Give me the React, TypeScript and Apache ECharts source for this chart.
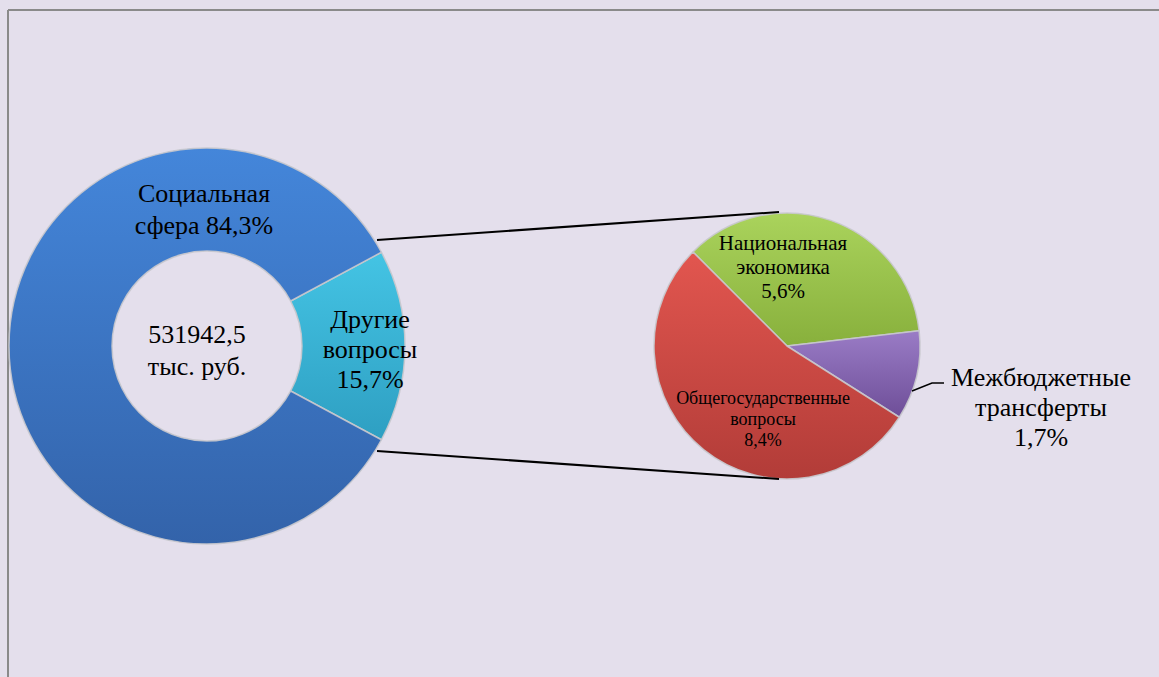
import React, { useEffect, useRef } from "react";
import * as echarts from "echarts";

// ---- data ----
const mainCategories = ["Социальная сфера", "Другие вопросы"];
const mainValues = [84.3, 15.7];
const totalValue = "531942,5";
const totalUnit = "тыс. руб.";
const subCategories = ["Национальная экономика", "Межбюджетные трансферты", "Общегосударственные вопросы"];
const subValues = [5.6, 1.7, 8.4];

const pct = (v: number) => v.toFixed(1).replace(".", ",") + "%";

const FONT = '"Liberation Serif", "Times New Roman", serif';

const grad = (top: string, bottom: string) => ({
  type: "linear",
  x: 0,
  y: 0,
  x2: 0,
  y2: 1,
  colorStops: [
    { offset: 0, color: top },
    { offset: 1, color: bottom },
  ],
});

export default function App() {
  const ref = useRef<HTMLDivElement>(null);

  useEffect(() => {
    document.body.style.margin = "0";
    const chart = echarts.init(ref.current!, null, { renderer: "svg" });

    const otherShare = mainValues[1] / (mainValues[0] + mainValues[1]);
    const mainStart = (otherShare * 360) / 2;

    const textStyle = (text: string, x: number, y: number, size: number, lh: number) => ({
      type: "text",
      x,
      y,
      silent: true,
      z: 100,
      style: {
        text,
        fontSize: size,
        fontFamily: FONT,
        fill: "#000",
        align: "center",
        verticalAlign: "middle",
        lineHeight: lh,
      },
    });

    chart.setOption({
      animation: false,
      backgroundColor: "#E4DFEC",
      series: [
        {
          type: "pie",
          center: [207, 346],
          radius: [95, 198],
          startAngle: mainStart,
          clockwise: true,
          silent: true,
          label: { show: false },
          labelLine: { show: false },
          itemStyle: { borderColor: "rgba(200,200,205,0.9)", borderWidth: 1.5 },
          data: [
            {
              name: mainCategories[1],
              value: mainValues[1],
              itemStyle: { color: grad("#44C4E4", "#2E9FC2") },
            },
            {
              name: mainCategories[0],
              value: mainValues[0],
              itemStyle: { color: grad("#4486DA", "#3363AA") },
            },
          ],
        },
        {
          type: "pie",
          center: [787, 346],
          radius: [0, 133],
          startAngle: 135,
          clockwise: true,
          silent: true,
          label: { show: false },
          labelLine: { show: false },
          itemStyle: { borderColor: "rgba(200,200,205,0.9)", borderWidth: 1.5 },
          data: [
            { name: subCategories[0], value: subValues[0], itemStyle: { color: grad("#AAD35C", "#88B03C") } },
            { name: subCategories[1], value: subValues[1], itemStyle: { color: grad("#9A7CC6", "#6E4E98") } },
            { name: subCategories[2], value: subValues[2], itemStyle: { color: grad("#E2564F", "#B23C38") } },
          ],
        },
      ],
      graphic: [
        // frame lines
        { type: "line", silent: true, shape: { x1: 8, y1: 10, x2: 8, y2: 677 }, style: { stroke: "#8A8A8A", lineWidth: 2 } },
        { type: "line", silent: true, shape: { x1: 8, y1: 10, x2: 1159, y2: 10 }, style: { stroke: "#8A8A8A", lineWidth: 2 } },
        // connector lines
        { type: "line", silent: true, z: 50, shape: { x1: 377, y1: 240, x2: 779, y2: 212 }, style: { stroke: "#000", lineWidth: 2 } },
        { type: "line", silent: true, z: 50, shape: { x1: 377, y1: 451, x2: 779, y2: 479 }, style: { stroke: "#000", lineWidth: 2 } },
        // leader line for small slice
        {
          type: "polyline",
          silent: true,
          z: 50,
          shape: { points: [[912, 391], [932, 383], [944, 383]] },
          style: { stroke: "#000", lineWidth: 1.5, fill: null },
        },
        textStyle(totalValue + "\n" + totalUnit, 197, 350, 26, 32),
        textStyle("Социальная\nсфера " + pct(mainValues[0]), 204, 209, 26, 32),
        textStyle("Другие\nвопросы\n" + pct(mainValues[1]), 370, 349, 26, 30),
        textStyle("Национальная\nэкономика\n" + pct(subValues[0]), 783, 267, 21, 24),
        textStyle("Межбюджетные\nтрансферты\n" + pct(subValues[1]), 1041, 407, 26, 30),
        textStyle("Общегосударственные\nвопросы\n" + pct(subValues[2]), 763, 419, 18, 21),
      ],
    });

    return () => chart.dispose();
  }, []);

  return (
    <div
      ref={ref}
      style={{ position: "fixed", left: 0, top: 0, width: 1159, height: 677 }}
    />
  );
}
